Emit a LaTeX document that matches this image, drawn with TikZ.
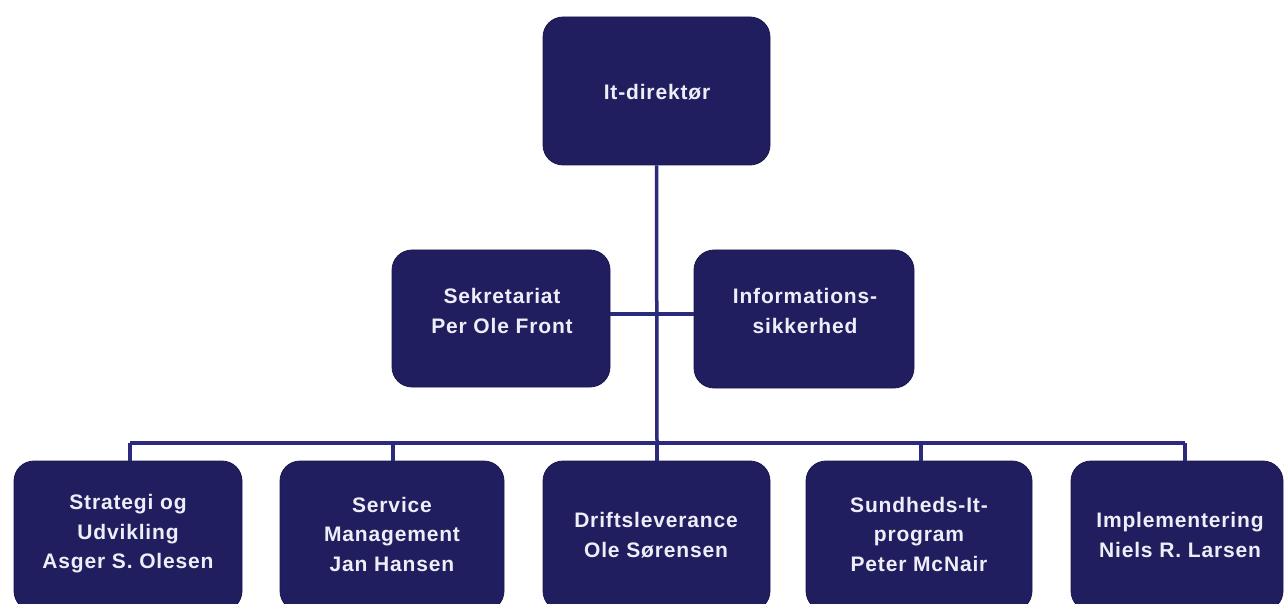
\documentclass[tikz,border=0pt]{standalone}
\usepackage{fontspec}
\setmainfont{Liberation Sans}
\newfontfamily\boxfont[LetterSpace=4]{Liberation Sans}
\definecolor{boxc}{HTML}{211E5F}
\definecolor{linec}{HTML}{2B2A7C}
\definecolor{txtc}{HTML}{EEEEF8}
\begin{document}
\begin{tikzpicture}[x=1pt,y=-1pt,
  unit/.style={draw=boxc!80!black, line width=0.8pt, fill=boxc, rounded corners=20pt,
    inner sep=0pt},
  lbl/.style={text=txtc, align=center, inner sep=0pt,
    font=\boxfont\bfseries\fontsize{21}{29.5}\selectfont},
  link/.style={draw=linec, line width=3.5pt}]
\useasboundingbox (0,0) rectangle (1286,604);
\clip (0,0) rectangle (1286,604);
\node[unit, minimum width=227pt, minimum height=148pt] (dir) at (656.5,91) {};
\node[lbl] (dirt) at (657,92) {It-direktør};
\node[unit, minimum width=218pt, minimum height=137pt] (sek) at (501,318.5) {};
\node[lbl] (sekt) at (502,311) {Sekretariat\\Per Ole Front};
\node[unit, minimum width=220pt, minimum height=138pt] (inf) at (804,319) {};
\node[lbl] (inft) at (805,311) {Informations-\\sikkerhed};
\node[unit, minimum width=228pt, minimum height=150pt] (b1) at (128,536) {};
\node[unit, minimum width=224pt, minimum height=150pt] (b2) at (392,536) {};
\node[unit, minimum width=227pt, minimum height=150pt] (b3) at (656.5,536) {};
\node[unit, minimum width=226pt, minimum height=150pt] (b4) at (919,536) {};
\node[unit, minimum width=212pt, minimum height=150pt] (b5) at (1177,536) {};
\node[lbl] (t1) at (128,534) {Strategi og\\Udvikling\\Asger S. Olesen};
\node[lbl] (t2) at (392,534) {Service\\Management\\Jan Hansen};
\node[lbl] (t3) at (656,535) {Driftsleverance\\Ole Sørensen};
\node[lbl] (t4) at (919,534) {Sundheds-It-\\program\\Peter McNair};
\node[lbl] (t5) at (1180,535) {Implementering\\Niels R. Larsen};
\coordinate (bar) at (657,443);
\draw[link] (dir.south) -- (bar);
\draw[link] (sek.east |- 0,314) -- (inf.west |- 0,314);
\draw[link] (130,443) -- (1185,443);
\draw[link] (130,443) -- (130,461);
\draw[link] (393,443) -- (393,461);
\draw[link] (bar) -- (657,461);
\draw[link] (921,443) -- (921,461);
\draw[link] (1185,443) -- (1185,461);
\end{tikzpicture}
\end{document}
